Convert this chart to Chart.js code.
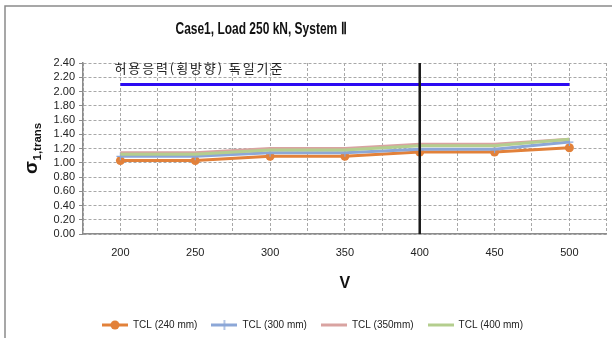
<!DOCTYPE html>
<html>
<head>
<meta charset="utf-8">
<script src="https://cdn.jsdelivr.net/npm/chart.js@4.4.0/dist/chart.umd.min.js"></script>
<style>
  html, body { margin: 0; padding: 0; background: #fff; }
  #wrap { width: 612px; height: 338px; position: relative; }
</style>
</head>
<body>
<div id="wrap"><canvas id="c" width="612" height="338"></canvas></div>
<script>
// Train speed V (km/h)
const speeds = [200, 250, 300, 350, 400, 450, 500];

// Transverse stress sigma_1,trans for each tie/slab length
const tcl240 = [1.03, 1.03, 1.09, 1.09, 1.15, 1.15, 1.21];
const tcl300 = [1.09, 1.09, 1.14, 1.14, 1.19, 1.19, 1.29];
const tcl350 = [1.14, 1.14, 1.20, 1.20, 1.26, 1.26, 1.33];
const tcl400 = [1.12, 1.12, 1.18, 1.18, 1.24, 1.24, 1.33];

const seriesNames = ['TCL (240 mm)', 'TCL (300 mm)', 'TCL (350mm)', 'TCL (400 mm)'];

// Allowable stress (transverse, German standard) and reference speed
const limitStress = 2.10;
const limitLabel = '허용응력(횡방향) 독일기준';
const referenceSpeed = 400;

const titleText = 'Case1, Load 250 kN, System Ⅱ';
const xTitle = 'V';
const yMin = 0, yMax = 2.4, yStep = 0.2;
const xMin = 175, xMax = 525, xStep = 25;

const colors = {
  tcl240: '#E2813A',
  tcl300: '#8CA7D7',
  tcl350: '#D9A3A1',
  tcl400: '#B4CE8E',
  limit: '#2C0BF2',
  ref: '#1a1a1a'
};

const baseFont = '"Liberation Sans", Arial, sans-serif';

function toPoints(values) {
  return speeds.map((s, i) => ({ x: s, y: values[i] }));
}

// Small line+marker swatches for the legend
function swatch(color, marker) {
  const c = document.createElement('canvas');
  c.width = 26; c.height = 12;
  const g = c.getContext('2d');
  g.strokeStyle = color;
  g.lineWidth = 3;
  g.beginPath(); g.moveTo(0, 6); g.lineTo(26, 6); g.stroke();
  if (marker === 'circle') {
    g.fillStyle = color;
    g.beginPath(); g.arc(13, 6, 4.5, 0, Math.PI * 2); g.fill();
  } else if (marker === 'cross') {
    g.lineWidth = 1.3;
    g.beginPath(); g.moveTo(13, 1); g.lineTo(13, 11); g.stroke();
  }
  return c;
}
const swatches = [
  swatch(colors.tcl240, 'circle'),
  swatch(colors.tcl300, 'cross'),
  swatch(colors.tcl350, null),
  swatch(colors.tcl400, null)
];

// Frame lines, title, rotated y title with subscript, and the limit label
const extras = {
  id: 'extras',
  beforeDraw(chart) {
    const ctx = chart.ctx;
    ctx.save();
    ctx.strokeStyle = '#8a8a8a';
    ctx.lineWidth = 1.5;
    ctx.beginPath();
    ctx.moveTo(5, 340); ctx.lineTo(5, 6); ctx.lineTo(614, 6);
    ctx.stroke();
    ctx.restore();
  },
  afterDraw(chart) {
    const ctx = chart.ctx;
    const xs = chart.scales.x, ys = chart.scales.y;

    // chart title, slightly condensed
    ctx.save();
    ctx.fillStyle = '#111';
    ctx.font = 'bold 16px ' + baseFont;
    ctx.textBaseline = 'middle';
    ctx.textAlign = 'center';
    const tw = ctx.measureText(titleText).width;
    const sx = Math.min(1, 171 / tw);
    ctx.translate(261, 30);
    ctx.scale(sx, 1);
    ctx.fillText(titleText, 0, 0);
    ctx.restore();

    // y-axis title
    ctx.save();
    ctx.translate(37, 174);
    ctx.rotate(-Math.PI / 2);
    ctx.fillStyle = '#111';
    ctx.textBaseline = 'alphabetic';
    ctx.textAlign = 'left';
    ctx.font = 'bold 19px ' + baseFont;
    ctx.fillText('σ', 0, 0);
    const w = ctx.measureText('σ').width;
    ctx.font = 'bold 11.5px ' + baseFont;
    ctx.fillText('1,trans', w + 0.5, 4);
    ctx.restore();

    // limit label
    ctx.save();
    ctx.fillStyle = '#222';
    ctx.font = '13px "Noto Sans CJK KR", sans-serif';
    if ('letterSpacing' in ctx) ctx.letterSpacing = '1.9px';
    ctx.textBaseline = 'middle';
    ctx.textAlign = 'left';
    ctx.fillText(limitLabel, xs.getPixelForValue(speeds[0]) - 6, ys.getPixelForValue(yMax) + 5);
    ctx.restore();
  }
};

const gridColor = '#a8a8a8';
const axisColor = '#8c8c8c';
const gridDash = [3, 2];

new Chart(document.getElementById('c'), {
  type: 'line',
  data: {
    datasets: [
      {
        label: seriesNames[0], data: toPoints(tcl240), order: 4,
        borderColor: colors.tcl240, backgroundColor: colors.tcl240,
        borderWidth: 3, pointStyle: 'circle', pointRadius: 4.5,
        pointBorderWidth: 0, pointBackgroundColor: colors.tcl240
      },
      {
        label: seriesNames[1], data: toPoints(tcl300), order: 3,
        borderColor: colors.tcl300, backgroundColor: colors.tcl300,
        borderWidth: 3, pointStyle: 'cross', pointRadius: 4,
        pointBorderWidth: 1.2, pointBorderColor: colors.tcl300
      },
      {
        label: seriesNames[2], data: toPoints(tcl350), order: 2,
        borderColor: colors.tcl350, backgroundColor: colors.tcl350,
        borderWidth: 3, pointRadius: 0
      },
      {
        label: seriesNames[3], data: toPoints(tcl400), order: 1,
        borderColor: colors.tcl400, backgroundColor: colors.tcl400,
        borderWidth: 3, pointRadius: 0
      },
      {
        label: 'limit', order: 0.5,
        data: [{ x: speeds[0], y: limitStress }, { x: speeds[speeds.length - 1], y: limitStress }],
        borderColor: colors.limit, borderWidth: 3, pointRadius: 0
      },
      {
        label: 'reference', order: 0,
        data: [{ x: referenceSpeed, y: yMin }, { x: referenceSpeed, y: yMax }],
        borderColor: colors.ref, borderWidth: 2.5, pointRadius: 0
      }
    ]
  },
  options: {
    responsive: false,
    devicePixelRatio: 1,
    animation: false,
    layout: { padding: { top: 63, right: 5, bottom: -2, left: 18 } },
    plugins: {
      tooltip: { enabled: false },
      title: { display: false },
      legend: {
        position: 'bottom',
        labels: {
          usePointStyle: true,
          pointStyleWidth: 26,
          padding: 14,
          color: '#222',
          font: { family: baseFont, size: 10 },
          generateLabels(chart) {
            return chart.data.datasets.slice(0, 4).map((ds, i) => ({
              text: ds.label,
              pointStyle: swatches[i],
              datasetIndex: i,
              hidden: false,
              fontColor: '#222',
              lineWidth: 0,
              strokeStyle: 'rgba(0,0,0,0)',
              fillStyle: 'rgba(0,0,0,0)'
            }));
          }
        }
      }
    },
    scales: {
      x: {
        type: 'linear',
        min: xMin, max: xMax,
        afterFit(scale) { scale.height = 72; },
        ticks: {
          stepSize: xStep,
          autoSkip: false,
          maxRotation: 0,
          padding: 3,
          color: '#222',
          font: { family: baseFont, size: 11 },
          callback: v => (v % 50 === 0 && v >= speeds[0] && v <= speeds[speeds.length - 1]) ? String(v) : ''
        },
        grid: {
          color: gridColor, lineWidth: 1, drawTicks: true, tickLength: 9,
          tickColor: 'rgba(0,0,0,0)'
        },
        border: { display: true, color: axisColor, width: 1.5, dash: gridDash },
        title: {
          display: true, text: xTitle, color: '#111',
          font: { family: baseFont, size: 16, weight: 'bold' },
          padding: { top: 0, bottom: 12.4 }
        }
      },
      y: {
        min: yMin, max: yMax,
        afterFit(scale) { scale.width = 65; },
        ticks: {
          stepSize: yStep,
          autoSkip: false,
          padding: 4,
          color: '#222',
          font: { family: baseFont, size: 11 },
          callback: v => Number(v).toFixed(2)
        },
        grid: {
          color: gridColor, lineWidth: 1, drawTicks: true, tickLength: 4,
          tickColor: axisColor, tickBorderDash: []
        },
        border: { display: true, color: axisColor, width: 1.5, dash: gridDash }
      }
    }
  },
  plugins: [extras]
});
</script>
</body>
</html>
